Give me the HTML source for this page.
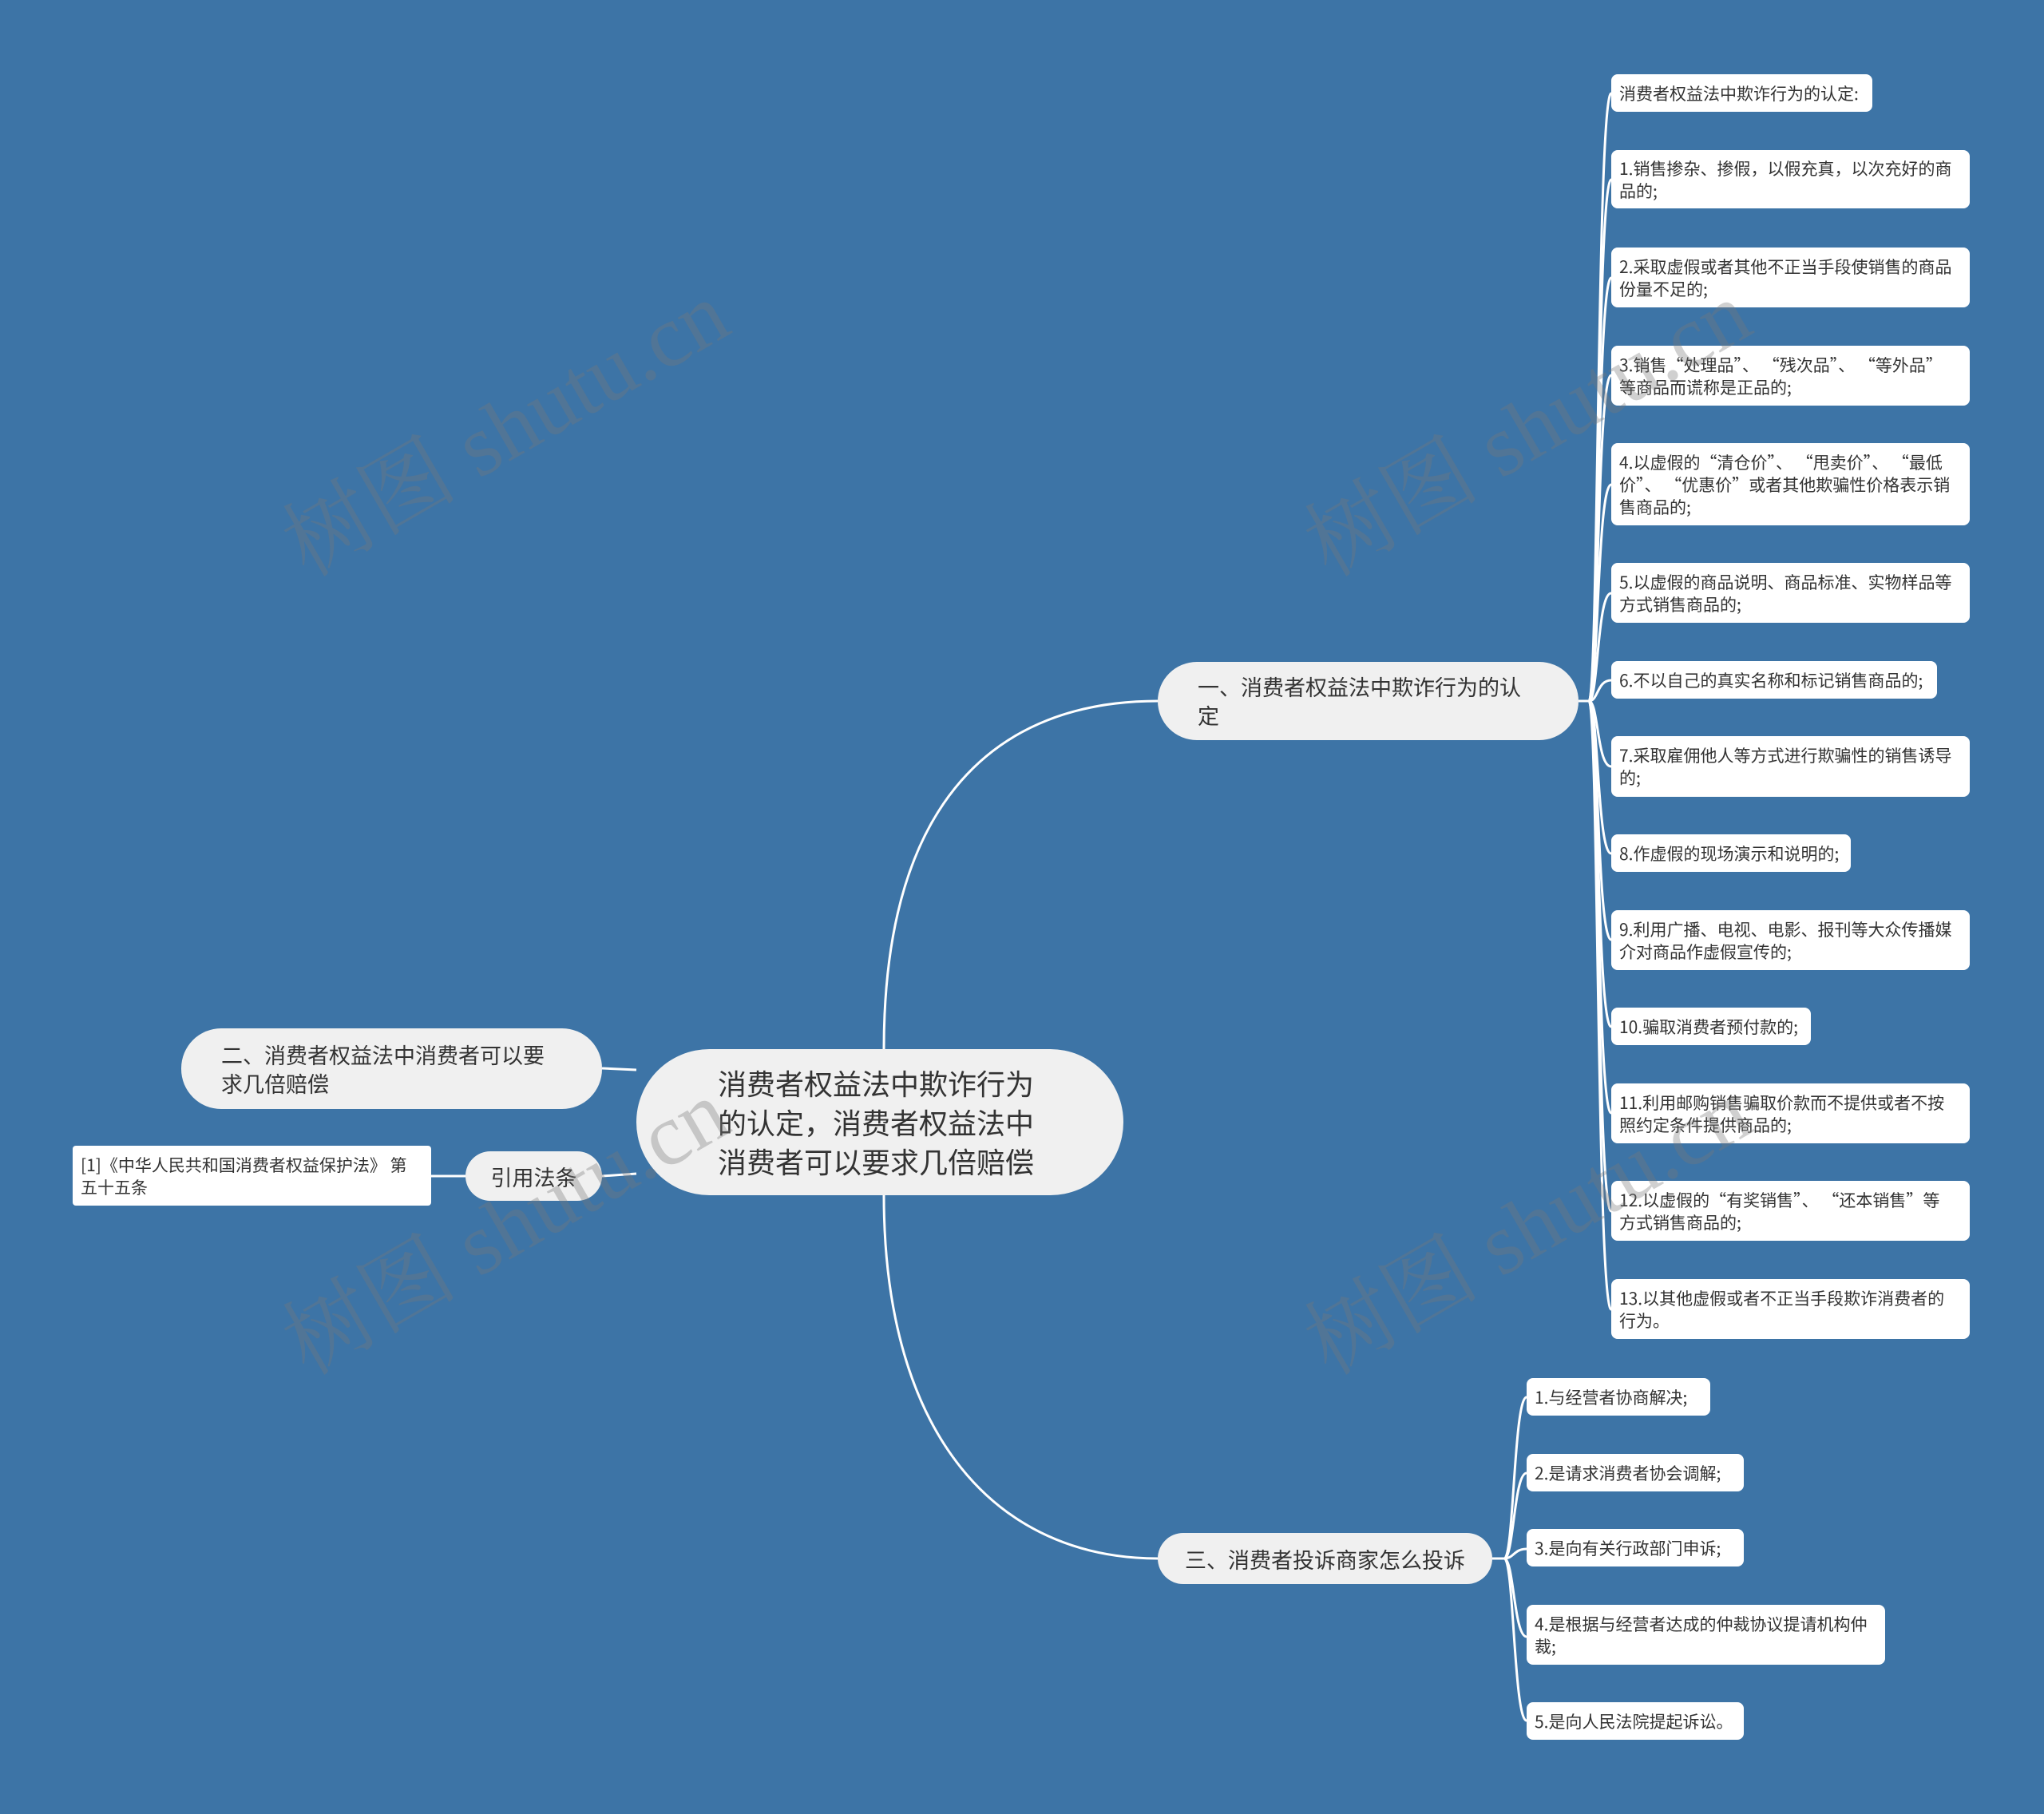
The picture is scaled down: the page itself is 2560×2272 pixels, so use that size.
<!DOCTYPE html>
<html><head><meta charset="utf-8"><style>
*{margin:0;padding:0;box-sizing:border-box}
body{width:2560px;height:2272px;background:#3d74a6;position:relative;overflow:hidden;font-family:"Noto Sans CJK SC","Liberation Sans",sans-serif;color:#333}
.n{position:absolute;background:#f0f0f0;display:flex;align-items:center}
.leaf{position:absolute;background:#fff;border-radius:8px;font-size:21px;line-height:28px;padding:0 17px 0 10px;display:flex;align-items:center;color:#333}
.s{white-space:nowrap;padding-right:4px}
.wm{position:absolute;font-family:"Liberation Serif","Noto Serif CJK SC",serif;font-size:110px;color:rgba(120,120,120,0.35);transform:rotate(-30deg);white-space:nowrap;transform-origin:center}
svg{position:absolute;left:0;top:0}
</style></head><body>
<svg width="2560" height="2272" fill="none" stroke="#fff" stroke-width="3">
<path d="M1107 1314 C1107 1000 1250 878 1450 878"/>
<path d="M1107 1497 C1107 1800 1250 1952 1450 1952"/>
<path d="M797 1340 L754 1338"/>
<path d="M797 1470 L754 1473"/>
<path d="M583 1473 L540 1473"/>
<g>
<path d="M1977 878 L1990 878 C2002 878 2000 117 2018 117"/>
<path d="M1990 878 C2002 878 2000 225 2018 225"/>
<path d="M1990 878 C2002 878 2000 348 2018 348"/>
<path d="M1990 878 C2002 878 2000 470 2018 470"/>
<path d="M1990 878 C2002 878 2000 607 2018 607"/>
<path d="M1990 878 C2002 878 2000 743 2018 743"/>
<path d="M1990 878 C2002 878 2000 852 2018 852"/>
<path d="M1990 878 C2002 878 2000 960 2018 960"/>
<path d="M1990 878 C2002 878 2000 1069 2018 1069"/>
<path d="M1990 878 C2002 878 2000 1177 2018 1177"/>
<path d="M1990 878 C2002 878 2000 1286 2018 1286"/>
<path d="M1990 878 C2002 878 2000 1394 2018 1394"/>
<path d="M1990 878 C2002 878 2000 1517 2018 1517"/>
<path d="M1990 878 C2002 878 2000 1640 2018 1640"/>
</g>
<g>
<path d="M1869 1952 L1884 1952 C1896 1952 1896 1750 1912 1750"/>
<path d="M1884 1952 C1896 1952 1896 1845 1912 1845"/>
<path d="M1884 1952 C1896 1952 1896 1940 1912 1940"/>
<path d="M1884 1952 C1896 1952 1896 2050 1912 2050"/>
<path d="M1884 1952 C1896 1952 1896 2155 1912 2155"/>
</g>
</svg>

<div class="n" style="left:797px;top:1314px;width:610px;height:183px;border-radius:92px;font-size:36px;line-height:49px;padding-left:102px;padding-right:90px">消费者权益法中欺诈行为的认定，消费者权益法中消费者可以要求几倍赔偿</div>
<div class="n" style="left:1450px;top:829px;width:527px;height:98px;border-radius:49px;font-size:27px;line-height:36px;padding:0 57px 0 50px">一、消费者权益法中欺诈行为的认定</div>
<div class="n" style="left:227px;top:1288px;width:527px;height:101px;border-radius:50px;font-size:27px;line-height:36px;padding:0 57px 0 50px">二、消费者权益法中消费者可以要求几倍赔偿</div>
<div class="n" style="left:583px;top:1442px;width:171px;height:62px;border-radius:31px;font-size:27px;justify-content:center">引用法条</div>
<div class="leaf" style="left:91px;top:1435px;width:449px;height:75px;border-radius:4px;padding-right:24px">[1]《中华人民共和国消费者权益保护法》 第五十五条</div>
<div class="n" style="left:1450px;top:1920px;width:419px;height:64px;border-radius:32px;font-size:27px;justify-content:center">三、消费者投诉商家怎么投诉</div>

<div class="leaf s" style="left:2018px;top:93px;width:327px;height:47px">消费者权益法中欺诈行为的认定:</div>
<div class="leaf" style="left:2018px;top:188px;width:449px;height:73px">1.销售掺杂、掺假，以假充真，以次充好的商品的;</div>
<div class="leaf" style="left:2018px;top:310px;width:449px;height:75px">2.采取虚假或者其他不正当手段使销售的商品份量不足的;</div>
<div class="leaf s" style="left:2018px;top:433px;width:449px;height:75px"><span>3.销售“处理品”、 “残次品”、 “等外品”<br>等商品而谎称是正品的;</span></div>
<div class="leaf" style="left:2018px;top:555px;width:449px;height:103px">4.以虚假的“清仓价”、 “甩卖价”、 “最低价”、 “优惠价”或者其他欺骗性价格表示销售商品的;</div>
<div class="leaf" style="left:2018px;top:705px;width:449px;height:75px">5.以虚假的商品说明、商品标准、实物样品等方式销售商品的;</div>
<div class="leaf s" style="left:2018px;top:828px;width:408px;height:47px">6.不以自己的真实名称和标记销售商品的;</div>
<div class="leaf" style="left:2018px;top:922px;width:449px;height:76px">7.采取雇佣他人等方式进行欺骗性的销售诱导的;</div>
<div class="leaf s" style="left:2018px;top:1045px;width:300px;height:47px">8.作虚假的现场演示和说明的;</div>
<div class="leaf" style="left:2018px;top:1140px;width:449px;height:75px">9.利用广播、电视、电影、报刊等大众传播媒介对商品作虚假宣传的;</div>
<div class="leaf s" style="left:2018px;top:1262px;width:250px;height:47px">10.骗取消费者预付款的;</div>
<div class="leaf" style="left:2018px;top:1357px;width:449px;height:75px">11.利用邮购销售骗取价款而不提供或者不按照约定条件提供商品的;</div>
<div class="leaf" style="left:2018px;top:1479px;width:449px;height:75px">12.以虚假的“有奖销售”、 “还本销售”等方式销售商品的;</div>
<div class="leaf" style="left:2018px;top:1602px;width:449px;height:75px">13.以其他虚假或者不正当手段欺诈消费者的行为。</div>

<div class="leaf s" style="left:1912px;top:1726px;width:230px;height:47px">1.与经营者协商解决;</div>
<div class="leaf s" style="left:1912px;top:1821px;width:272px;height:47px">2.是请求消费者协会调解;</div>
<div class="leaf s" style="left:1912px;top:1915px;width:272px;height:47px">3.是向有关行政部门申诉;</div>
<div class="leaf" style="left:1912px;top:2010px;width:449px;height:75px">4.是根据与经营者达成的仲裁协议提请机构仲裁;</div>
<div class="leaf s" style="left:1912px;top:2132px;width:272px;height:47px">5.是向人民法院提起诉讼。</div>

<div class="wm" style="left:320px;top:450px">树图 shutu.cn</div>
<div class="wm" style="left:1600px;top:450px">树图 shutu.cn</div>
<div class="wm" style="left:320px;top:1450px">树图 shutu.cn</div>
<div class="wm" style="left:1600px;top:1450px">树图 shutu.cn</div>
</body></html>
